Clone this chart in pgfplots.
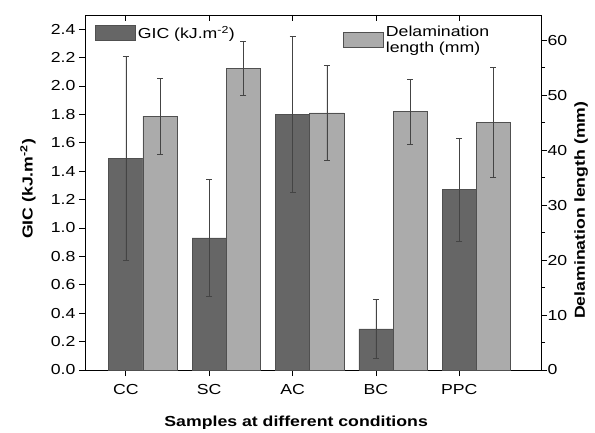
\documentclass[border=0pt]{standalone}
\usepackage{fontspec}
\setmainfont{Liberation Sans}[FakeStretch=1.22]
\usepackage{pgfplots}
\pgfplotsset{compat=1.18}

\definecolor{darkbar}{HTML}{666666}
\definecolor{lightbar}{HTML}{ABABAB}
\definecolor{edgecol}{HTML}{505050}
\definecolor{errcol}{HTML}{444444}

\pgfplotsset{
  common/.style={
    scale only axis, width=456pt, height=355pt,
    xmin=-0.49, xmax=4.98,
    /pgf/number format/assume math mode=true,
    tick label style={font=\fontsize{14.5}{16}\selectfont},
    label style={font=\fontsize{14.5}{17}\selectfont\bfseries},
    axis line style={line width=0.9pt},
    major tick length=6pt, minor tick length=4pt,
    tick style={line width=0.8pt, black},
    legend style={draw=none, fill=none, font=\fontsize{14.5}{16}\selectfont,
      cells={align=left}, inner sep=0pt},
    legend image code/.code={\draw[#1] (0pt,-7.5pt) rectangle (40pt,7.5pt);},
  },
  bars/.style={ybar, bar width=0.41, bar shift=0pt, line width=0.6pt,
    error bars/y dir=both, error bars/y explicit,
    error bars/error bar style={errcol, line width=0.5pt},
    error bars/error mark options={errcol, rotate=90, mark size=3pt, line width=0.5pt}},
}

\begin{document}
\begin{tikzpicture}
% left axis: GIC
\begin{axis}[common, name=ax1,
  ymin=0, ymax=2.5,
  axis y line*=left, axis x line*=bottom,
  tick align=outside,
  xtick={0,1,2,3,4}, xticklabels={CC,SC,AC,BC,PPC},
  xticklabel style={yshift=-5pt},
  ytick={0,0.2,...,2.4},
  yticklabel style={/pgf/number format/.cd, fixed, fixed zerofill, precision=1},
  xlabel={Samples at different conditions},
  xlabel style={at={(axis description cs:0.463,-0.148)}, anchor=center},
  ylabel={GIC (kJ.m\textsuperscript{-2})},
  ylabel style={at={(axis description cs:-0.125,0.51)}, anchor=center},
  legend style={at={(0.022,0.975)}, anchor=north west},
]
\addplot[bars, fill=darkbar, draw=edgecol] coordinates {
  (0,1.49) +- (0,0.72)
  (1,0.93) +- (0,0.41)
  (2,1.80) +- (0,0.55)
  (3,0.29) +- (0,0.205)
  (4,1.27) +- (0,0.365)
};
\addlegendentry{GIC (kJ.m\textsuperscript{-2})}
\end{axis}

% right axis: delamination length
\begin{axis}[common,
  ymin=0, ymax=64.6,
  axis y line*=right, hide x axis,
  tick align=outside,
  ytick={0,10,...,60}, minor ytick={5,15,...,55},
  yticklabel style={xshift=-3pt},
  ylabel={Delamination length (mm)},
  ylabel style={at={(axis description cs:1.088,0.45)}, anchor=center},
  legend style={at={(0.566,0.975)}, anchor=north west},
]
\addplot[bars, fill=lightbar, draw=edgecol] coordinates {
  (0.41,46.2) +- (0,6.9)
  (1.41,54.9) +- (0,4.9)
  (2.41,46.8) +- (0,8.6)
  (3.41,47.0) +- (0,5.9)
  (4.41,45.1) +- (0,10.0)
};
\addlegendentry{Delamination\\length (mm)}
\end{axis}

% top axis: inner ticks only
\begin{axis}[common,
  ymin=0, ymax=1,
  hide y axis, axis x line*=top,
  tick align=inside,
  xtick={0,1,2,3,4}, xticklabels={},
]
\end{axis}

\path ([shift={(-85pt,-62pt)}]ax1.south west) rectangle ([shift={(54pt,15pt)}]ax1.north east);
\end{tikzpicture}
\end{document}
